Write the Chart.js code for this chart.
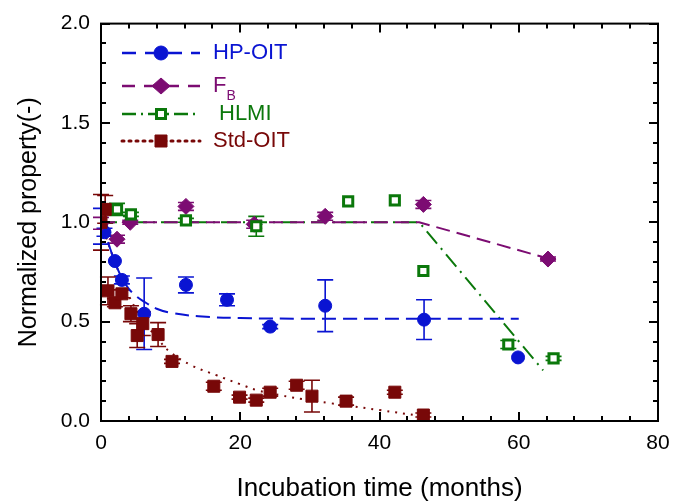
<!DOCTYPE html>
<html>
<head>
<meta charset="utf-8">
<script src="https://cdn.jsdelivr.net/npm/chart.js@4.4.1/dist/chart.umd.min.js"></script>
<style>
    html, body { margin: 0; padding: 0; background: #ffffff; }
    #wrap { width: 686px; height: 504px; }
</style>
</head>
<body>
<div id="wrap"><canvas id="chart" width="686" height="504"></canvas></div>
<script>
// measured points (months, normalized value, error)
const hpX = [0, 0.5, 2, 3, 6.2, 12.2, 18.1, 24.3, 32.2, 46.4, 59.9];
const hpY = [0.98, 0.95, 0.805, 0.71, 0.54, 0.685, 0.61, 0.475, 0.58, 0.51, 0.32];
const hpErr = [0.09, 0.02, 0, 0.02, 0.18, 0.04, 0.03, 0.01, 0.13, 0.1, 0];

const fbX = [0, 2.3, 4.2, 12.2, 22, 32.2, 46.3, 64.2];
const fbY = [0.995, 0.915, 1.0, 1.08, 0.99, 1.03, 1.09, 0.815];
const fbErr = [0.03, 0.02, 0.01, 0.02, 0.02, 0.02, 0.02, 0.01];

const hlmiX = [2.3, 4.3, 12.2, 22.3, 35.5, 42.2, 46.3, 58.5, 65];
const hlmiY = [1.065, 1.04, 1.01, 0.98, 1.105, 1.11, 0.755, 0.385, 0.315];
const hlmiErr = [0.03, 0.01, 0.01, 0.05, 0, 0, 0, 0.02, 0.01];

const stdX = [0, 0.6, 1, 2, 3, 4.3, 6, 5.2, 8.2, 10.2, 16.2, 19.9, 22.3, 24.3, 28.1, 30.3, 35.2, 42.2, 46.3];
const stdY = [1.0, 1.065, 0.655, 0.595, 0.64, 0.54, 0.49, 0.43, 0.435, 0.3, 0.175, 0.12, 0.105, 0.145, 0.18, 0.125, 0.1, 0.145, 0.03];
const stdErr = [0.14, 0.07, 0.07, 0.02, 0.02, 0.04, 0.06, 0.06, 0.06, 0.01, 0.02, 0.01, 0.01, 0.02, 0.02, 0.08, 0.02, 0.01, 0.01];

// fitted curves
const hpFitX = [0, 1, 2, 3, 4, 5, 6, 8, 10, 14, 20, 30, 60];
const hpFitY = [1.0, 0.9, 0.8, 0.72, 0.665, 0.63, 0.605, 0.565, 0.545, 0.527, 0.518, 0.515, 0.515];
const fbFitX = [0, 45.7, 64];
const fbFitY = [1.0, 1.0, 0.82];
const hlmiFitX = [0, 45.7, 63.5];
const hlmiFitY = [1.0, 1.0, 0.255];
const stdFitX = [0, 2, 4, 6, 8, 10, 13, 16.6, 20, 22.4, 25.7, 29, 32.9, 36, 40, 46];
const stdFitY = [1.0, 0.8, 0.63, 0.51, 0.42, 0.345, 0.28, 0.23, 0.185, 0.155, 0.13, 0.11, 0.09, 0.075, 0.055, 0.025];

const xTicks = [0, 20, 40, 60, 80];
const yTicks = [0, 0.5, 1.0, 1.5, 2.0];

const BLUE = '#0a14d2';
const PURPLE = '#7c0c72';
const GREEN = '#0b780b';
const RED = '#780808';
const FONT = '"Liberation Sans", Arial, sans-serif';

const pts = (xs, ys) => xs.map((x, i) => ({ x: x, y: ys[i] }));

const series = [
    { label: 'HP-OIT', color: BLUE, x: hpX, y: hpY, err: hpErr, style: 'circle', radius: 6.5, fill: BLUE, bw: 1 },
    { label: 'F', sub: 'B', color: PURPLE, x: fbX, y: fbY, err: fbErr, style: 'rectRot', radius: 8, fill: PURPLE, bw: 1 },
    { label: 'HLMI', color: GREEN, x: hlmiX, y: hlmiY, err: hlmiErr, style: 'rect', radius: 6.5, fill: '#ffffff', bw: 3 },
    { label: 'Std-OIT', color: RED, x: stdX, y: stdY, err: stdErr, style: 'rect', radius: 8.5, fill: RED, bw: 1 },
];

const fits = [
    { color: BLUE, x: hpFitX, y: hpFitY, dash: [14, 7], tension: 0.4 },
    { color: PURPLE, x: fbFitX, y: fbFitY, dash: [14, 7], tension: 0 },
    { color: GREEN, x: hlmiFitX, y: hlmiFitY, dash: [16, 6, 2, 6], tension: 0 },
    { color: RED, x: stdFitX, y: stdFitY, dash: [2, 6], tension: 0.4 },
];

const datasets = [];
fits.forEach((f) => {
    datasets.push({
        data: pts(f.x, f.y),
        showLine: true,
        borderColor: f.color,
        borderWidth: 2,
        borderDash: f.dash,
        tension: f.tension,
        pointRadius: 0,
        fill: false,
        order: 10,
    });
});
series.forEach((s, i) => {
    datasets.push({
        label: s.label,
        data: pts(s.x, s.y),
        showLine: false,
        pointStyle: s.style,
        pointRadius: s.radius,
        pointBackgroundColor: s.fill,
        pointBorderColor: s.color,
        pointBorderWidth: s.bw,
        order: 5 - i,
    });
});

const errorBars = {
    id: 'errorBars',
    beforeDatasetsDraw(chart) {
        const { ctx, scales: { x, y } } = chart;
        ctx.save();
        ctx.lineWidth = 1.6;
        series.forEach((s) => {
            ctx.strokeStyle = s.color;
            s.x.forEach((xv, i) => {
                const e = s.err[i];
                if (!e) {
                    return;
                }
                const px = x.getPixelForValue(xv);
                const top = y.getPixelForValue(s.y[i] + e);
                const bot = y.getPixelForValue(s.y[i] - e);
                ctx.beginPath();
                ctx.moveTo(px, top);
                ctx.lineTo(px, bot);
                ctx.moveTo(px - 8, top);
                ctx.lineTo(px + 8, top);
                ctx.moveTo(px - 8, bot);
                ctx.lineTo(px + 8, bot);
                ctx.stroke();
            });
        });
        ctx.restore();
    },
};

const frame = {
    id: 'frame',
    afterDraw(chart) {
        const { ctx, chartArea: a, scales: { x, y } } = chart;
        ctx.save();
        ctx.strokeStyle = '#000000';
        ctx.lineWidth = 2;
        ctx.strokeRect(a.left, a.top, a.right - a.left, a.bottom - a.top);
        ctx.beginPath();
        for (let v = 0; v <= 80.001; v += 4) {
            const px = Math.round(x.getPixelForValue(v));
            const len = Math.abs(v % 20) < 0.01 ? 9 : 5;
            ctx.moveTo(px, a.bottom);
            ctx.lineTo(px, a.bottom - len);
            ctx.moveTo(px, a.top);
            ctx.lineTo(px, a.top + len);
        }
        for (let k = 0; k <= 20; k++) {
            const py = Math.round(y.getPixelForValue(k / 10));
            const len = k % 5 === 0 ? 9 : 5;
            ctx.moveTo(a.left, py);
            ctx.lineTo(a.left + len, py);
            ctx.moveTo(a.right, py);
            ctx.lineTo(a.right - len, py);
        }
        ctx.stroke();
        ctx.restore();
    },
};

const legendBox = {
    id: 'legendBox',
    afterDraw(chart) {
        const ctx = chart.ctx;
        const rows = [53, 86, 114, 141];
        const dashes = [[14, 9], [13, 9], [14, 5, 2, 5], [2, 5]];
        ctx.save();
        series.forEach((s, i) => {
            const yy = rows[i];
            ctx.strokeStyle = s.color;
            ctx.lineWidth = s.label === 'Std-OIT' ? 3 : 2.5;
            ctx.setLineDash(dashes[i]);
            ctx.lineCap = s.label === 'Std-OIT' ? 'round' : 'butt';
            ctx.beginPath();
            ctx.moveTo(122, yy);
            ctx.lineTo(200, yy);
            ctx.stroke();
            ctx.setLineDash([]);
            ctx.lineCap = 'butt';
            // marker
            const mx = 161;
            ctx.fillStyle = s.fill;
            ctx.lineWidth = s.bw;
            ctx.beginPath();
            if (s.style === 'circle') {
                ctx.arc(mx, yy, 7, 0, Math.PI * 2);
            } else if (s.style === 'rectRot') {
                ctx.moveTo(mx - 9, yy);
                ctx.lineTo(mx, yy - 8);
                ctx.lineTo(mx + 9, yy);
                ctx.lineTo(mx, yy + 8);
                ctx.closePath();
            } else {
                const h = s.bw > 2 ? 4.5 : 6;
                ctx.rect(mx - h, yy - h, 2 * h, 2 * h);
            }
            ctx.fill();
            ctx.stroke();
            // text
            ctx.fillStyle = s.color;
            ctx.font = '22px ' + FONT;
            ctx.textBaseline = 'middle';
            ctx.textAlign = 'left';
            const tx = s.label === 'HLMI' ? 219 : 213;
            ctx.fillText(s.label, tx, yy);
            if (s.sub) {
                const w = ctx.measureText(s.label).width;
                ctx.font = '14px ' + FONT;
                ctx.fillText(s.sub, tx + w, yy + 10);
            }
        });
        ctx.restore();
    },
};

new Chart(document.getElementById('chart'), {
    type: 'scatter',
    data: { datasets: datasets },
    options: {
        responsive: false,
        animation: false,
        devicePixelRatio: 1,
        layout: { padding: { top: 21, right: 28, left: 0, bottom: 0 } },
        plugins: {
            legend: { display: false },
            tooltip: { enabled: false },
        },
        scales: {
            x: {
                type: 'linear',
                min: 0,
                max: 80,
                afterBuildTicks: (scale) => {
                    scale.ticks = xTicks.map((v) => ({ value: v }));
                },
                afterFit: (scale) => {
                    scale.height = 83;
                },
                grid: { display: false, drawTicks: false },
                border: { display: false },
                ticks: {
                    color: '#000000',
                    padding: 10,
                    maxRotation: 0,
                    font: { family: FONT, size: 21 },
                },
                title: {
                    display: true,
                    text: 'Incubation time (months)',
                    color: '#000000',
                    font: { family: FONT, size: 26 },
                    padding: { top: 8, bottom: 0 },
                },
            },
            y: {
                type: 'linear',
                min: 0,
                max: 2,
                afterBuildTicks: (scale) => {
                    scale.ticks = yTicks.map((v) => ({ value: v }));
                },
                afterFit: (scale) => {
                    scale.width = 101;
                },
                grid: { display: false, drawTicks: false },
                border: { display: false },
                ticks: {
                    color: '#000000',
                    padding: 11,
                    font: { family: FONT, size: 21 },
                    callback: (v) => Number(v).toFixed(1),
                },
                title: {
                    display: true,
                    text: 'Normalized property(-)',
                    color: '#000000',
                    font: { family: FONT, size: 25 },
                    padding: { top: 14, bottom: 0 },
                },
            },
        },
    },
    plugins: [errorBars, frame, legendBox],
});
</script>
</body>
</html>
